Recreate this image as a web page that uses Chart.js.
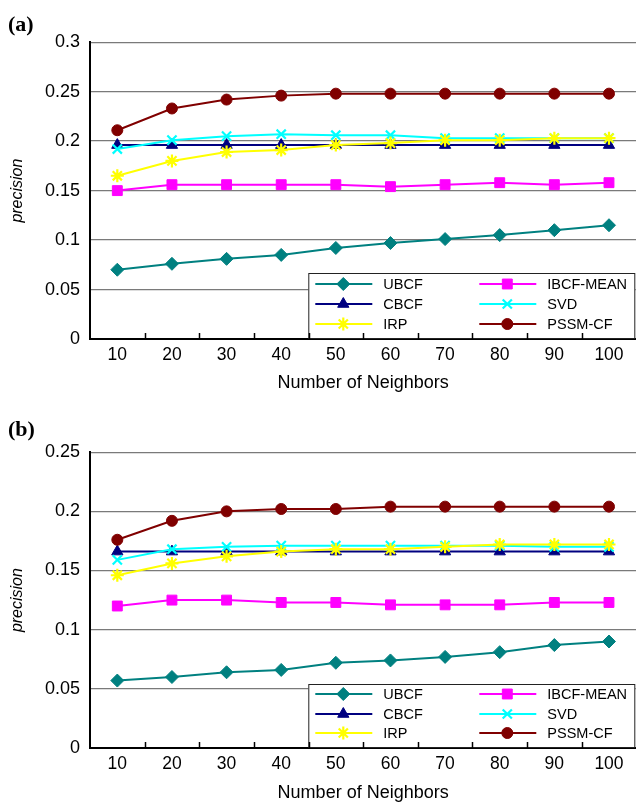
<!DOCTYPE html>
<html>
<head>
<meta charset="utf-8">
<script src="https://cdn.jsdelivr.net/npm/chart.js@4.4.1/dist/chart.umd.min.js"></script>
<style>
html, body { margin: 0; padding: 0; background: #fff; overflow: hidden; }
.panel { position: absolute; left: 0; width: 636px; height: 402px; overflow: hidden; }
#wrapA { top: 0; }
#wrapB { top: 402px; }
</style>
</head>
<body>
<div class="panel" id="wrapA"><canvas id="chartA" width="645" height="402"></canvas></div>
<div class="panel" id="wrapB"><canvas id="chartB" width="645" height="402"></canvas></div>
<script>
// x categories
const neighbors = ['10', '20', '30', '40', '50', '60', '70', '80', '90', '100'];

// (a)
const ubcfA     = [0.070, 0.076, 0.081, 0.085, 0.092, 0.097, 0.101, 0.105, 0.110, 0.115];
const ibcfMeanA = [0.150, 0.156, 0.156, 0.156, 0.156, 0.154, 0.156, 0.158, 0.156, 0.158];
const cbcfA     = [0.196, 0.196, 0.196, 0.196, 0.196, 0.196, 0.196, 0.196, 0.196, 0.196];
const svdA      = [0.192, 0.201, 0.205, 0.207, 0.206, 0.206, 0.203, 0.203, 0.203, 0.203];
const irpA      = [0.165, 0.180, 0.189, 0.191, 0.196, 0.198, 0.201, 0.201, 0.203, 0.203];
const pssmA     = [0.211, 0.233, 0.242, 0.246, 0.248, 0.248, 0.248, 0.248, 0.248, 0.248];

// (b)
const ubcfB     = [0.057, 0.060, 0.064, 0.066, 0.072, 0.074, 0.077, 0.081, 0.087, 0.090];
const ibcfMeanB = [0.120, 0.125, 0.125, 0.123, 0.123, 0.121, 0.121, 0.121, 0.123, 0.123];
const cbcfB     = [0.166, 0.166, 0.166, 0.166, 0.166, 0.166, 0.166, 0.166, 0.166, 0.166];
const svdB      = [0.159, 0.168, 0.170, 0.171, 0.171, 0.171, 0.171, 0.171, 0.170, 0.170];
const irpB      = [0.146, 0.156, 0.162, 0.166, 0.168, 0.168, 0.170, 0.172, 0.172, 0.172];
const pssmB     = [0.176, 0.192, 0.200, 0.202, 0.202, 0.204, 0.204, 0.204, 0.204, 0.204];

// y axis ranges
const yMaxA = 0.3;
const yMaxB = 0.25;
const yStep = 0.05;

// legend order (row by row, two columns)
const legendOrder = ['UBCF', 'IBCF-MEAN', 'CBCF', 'SVD', 'IRP', 'PSSM-CF'];

const FONT = "'Liberation Sans', Arial, sans-serif";

const seriesStyle = {
    'UBCF':      { color: '#008080', pointStyle: 'rectRot',  radius: 6.5 },
    'IBCF-MEAN': { color: '#ff00ff', pointStyle: 'rect',     radius: 7 },
    'CBCF':      { color: '#000080', pointStyle: 'triangle', radius: 6.5 },
    'SVD':       { color: '#00ffff', pointStyle: 'crossRot', radius: 6.5 },
    'IRP':       { color: '#ffff00', pointStyle: 'star',     radius: 6.5 },
    'PSSM-CF':   { color: '#800000', pointStyle: 'circle',   radius: 5.5 }
};

function makeDataset(label, values) {
    let s = seriesStyle[label];
    let stroked = s.pointStyle === 'crossRot' || s.pointStyle === 'star';
    return {
        label: label,
        data: values,
        borderColor: s.color,
        backgroundColor: s.color,
        borderWidth: 2,
        pointStyle: s.pointStyle,
        pointRadius: s.radius,
        pointBackgroundColor: s.color,
        pointBorderColor: s.color,
        pointBorderWidth: stroked ? 2.2 : 1,
        tension: 0
    };
}

/**
 * legend box drawn inside the plot, bottom right
 */
const boxLegend = {
    id: 'boxLegend',
    afterDatasetsDraw(chart, args, opts) {
        let ctx = chart.ctx;
        let area = chart.chartArea;
        let w = opts.width, h = opts.height;
        let left = area.right - w - 1;
        let top = area.bottom - h - 1;
        ctx.save();
        ctx.fillStyle = '#fff';
        ctx.fillRect(left, top, w, h);
        ctx.strokeStyle = '#222';
        ctx.lineWidth = 1;
        ctx.strokeRect(left + 0.5, top + 0.5, w - 1, h);
        ctx.font = '14.5px ' + FONT;
        ctx.textBaseline = 'middle';
        legendOrder.forEach(function (name, i) {
            let col = i % 2, row = Math.floor(i / 2);
            let x0 = left + (col === 0 ? 7 : 171);
            let y = top + opts.rows[row];
            let s = seriesStyle[name];
            ctx.strokeStyle = s.color;
            ctx.fillStyle = s.color;
            ctx.lineWidth = 2;
            ctx.beginPath();
            ctx.moveTo(x0, y);
            ctx.lineTo(x0 + 57, y);
            ctx.stroke();
            let stroked = s.pointStyle === 'crossRot' || s.pointStyle === 'star';
            ctx.lineWidth = stroked ? 2.2 : 1;
            Chart.helpers.drawPoint(ctx, { pointStyle: s.pointStyle, radius: s.radius, rotation: 0, borderWidth: ctx.lineWidth }, x0 + 28, y);
            ctx.fillStyle = '#000';
            ctx.fillText(name, x0 + 68, y + 1);
        });
        ctx.restore();
    }
};

/**
 * small inward ticks between categories on the x axis
 */
const innerTicks = {
    id: 'innerTicks',
    afterDraw(chart) {
        let ctx = chart.ctx;
        let xs = chart.scales.x;
        let bottom = chart.chartArea.bottom;
        ctx.save();
        ctx.strokeStyle = '#000';
        ctx.lineWidth = 1.5;
        for (let i = 1; i < neighbors.length; i++) {
            let x = Math.round((xs.getPixelForTick(i - 1) + xs.getPixelForTick(i)) / 2) + 0.5;
            ctx.beginPath();
            ctx.moveTo(x, bottom);
            ctx.lineTo(x, bottom - 6);
            ctx.stroke();
        }
        ctx.restore();
    }
};

function buildChart(canvasId, tag, series, yMax, cfg) {
    // drawn first = top-most, so keep later series first
    let datasets = [
        makeDataset('PSSM-CF', series[5]),
        makeDataset('IRP', series[4]),
        makeDataset('SVD', series[3]),
        makeDataset('CBCF', series[2]),
        makeDataset('IBCF-MEAN', series[1]),
        makeDataset('UBCF', series[0])
    ];
    return new Chart(document.getElementById(canvasId), {
        type: 'line',
        data: { labels: neighbors, datasets: datasets },
        plugins: [boxLegend, innerTicks],
        options: {
            responsive: false,
            animation: false,
            devicePixelRatio: 1,
            layout: { padding: { left: 8, right: 0, top: 0, bottom: 0 } },
            plugins: {
                legend: { display: false },
                tooltip: { enabled: false },
                title: {
                    display: true,
                    text: tag,
                    align: 'start',
                    color: '#000',
                    font: { family: "'Liberation Serif', 'Times New Roman', serif", size: 22, weight: 'bold', lineHeight: 1.1 },
                    padding: cfg.titlePad
                },
                boxLegend: { width: 327, height: cfg.legendH, rows: cfg.legendRows }
            },
            scales: {
                x: {
                    type: 'category',
                    offset: true,
                    grid: { display: false, drawTicks: false },
                    border: { display: true, color: '#000', width: 2 },
                    ticks: { color: '#000', padding: 6, font: { family: FONT, size: 17.5 }, maxRotation: 0 },
                    title: {
                        display: true,
                        text: 'Number of Neighbors',
                        color: '#000',
                        font: { family: FONT, size: 18 },
                        padding: cfg.xTitlePad
                    },
                    afterFit: function (scale) { scale.height = cfg.xHeight; }
                },
                y: {
                    min: 0,
                    max: yMax,
                    grid: { color: '#7a7a7a', lineWidth: 1.3, drawTicks: false },
                    border: { display: true, color: '#000', width: 2 },
                    ticks: {
                        stepSize: yStep,
                        color: '#000',
                        padding: 10,
                        font: { family: FONT, size: 18 },
                        callback: function (v) { return String(+v.toFixed(2)); }
                    },
                    title: {
                        display: true,
                        text: 'precision',
                        color: '#000',
                        font: { family: FONT, size: 16, style: 'italic' },
                        padding: 0
                    },
                    afterFit: function (scale) { scale.width = 82; }
                }
            }
        }
    });
}

buildChart('chartA', '(a)', [ubcfA, ibcfMeanA, cbcfA, svdA, irpA, pssmA], yMaxA, {
    titlePad: { top: 13, bottom: 5 },
    xHeight: 63,
    xTitlePad: { top: 4, bottom: 8 },
    legendH: 65,
    legendRows: [11, 31, 51]
});

buildChart('chartB', '(b)', [ubcfB, ibcfMeanB, cbcfB, svdB, irpB, pssmB], yMaxB, {
    titlePad: { top: 16, bottom: 10 },
    xHeight: 56,
    xTitlePad: { top: 4, bottom: 0 },
    legendH: 63,
    legendRows: [10, 30, 49]
});
</script>
</body>
</html>
